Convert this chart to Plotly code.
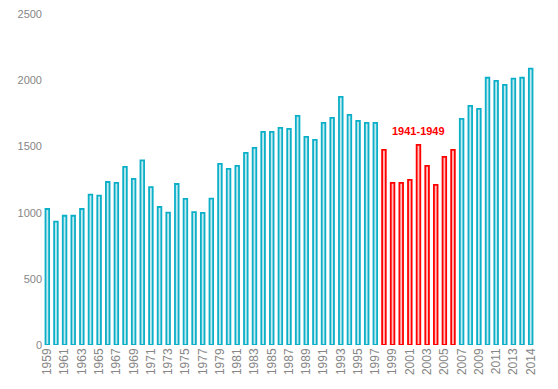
import plotly.graph_objects as go

# Category labels (57 bars); the chart labels every second bar, last bar labelled 2014
bar_labels = [str(y) for y in range(1959, 2014)] + ["", "2014"]
values = [1028, 932, 977, 977, 1028, 1136, 1129, 1232, 1225, 1346,
          1255, 1396, 1194, 1043, 1000, 1217, 1104, 1005, 998, 1106,
          1369, 1331, 1354, 1452, 1490, 1611, 1611, 1641, 1634, 1732,
          1573, 1551, 1679, 1717, 1876, 1740, 1694, 1679, 1679, 1475,
          1225, 1225, 1248, 1513, 1354, 1210, 1422, 1475, 1710, 1808,
          1785, 2020, 1997, 1967, 2013, 2020, 2089]
highlight_start, highlight_end = 39, 47   # red group of 9 bars
highlight_text = "1941-1949"
y_ticks = [0, 500, 1000, 1500, 2000, 2500]

TEAL = "#0BAFC7"
TEAL_FILL = "#c3eaf0"
RED = "#FF0000"
RED_FILL = "#ffc0c0"

x = list(range(len(values)))
line_colors = [RED if highlight_start <= i <= highlight_end else TEAL for i in x]
fill_colors = [RED_FILL if highlight_start <= i <= highlight_end else TEAL_FILL for i in x]

fig = go.Figure()
fig.add_trace(go.Bar(
    x=x, y=values, width=0.42,
    marker=dict(color=fill_colors, line=dict(color=line_colors, width=1.8)),
    hoverinfo="skip",
))

tick_idx = [i for i in x if i % 2 == 0]
# page body has an 8px margin, so the figure is sized/offset to compensate
fig.update_layout(
    width=550, height=381,
    margin=dict(l=35, r=23, t=6, b=44),
    plot_bgcolor="white", paper_bgcolor="white",
    showlegend=False,
    font=dict(family="Liberation Sans, Arial, sans-serif", color="#868686", size=11),
    xaxis=dict(
        range=[-0.5, len(values) - 0.5],
        tickmode="array", tickvals=tick_idx, ticktext=[bar_labels[i] for i in tick_idx],
        tickangle=-90, showgrid=False, zeroline=False, showline=False,
        ticks="", tickfont=dict(size=12, color="#868686"), automargin=False,
    ),
    yaxis=dict(
        range=[0, 2502], tickmode="array", tickvals=y_ticks,
        showgrid=False, zeroline=False, showline=False, ticks="",
        tickfont=dict(size=11, color="#868686"), automargin=False,
    ),
    annotations=[dict(
        x=(highlight_start + highlight_end) / 2, y=1616, xref="x", yref="y",
        text="<b>" + highlight_text + "</b>", showarrow=False,
        font=dict(family="Liberation Sans, Arial, sans-serif", size=11, color=RED),
    )],
)

fig.write_html("out.html")
